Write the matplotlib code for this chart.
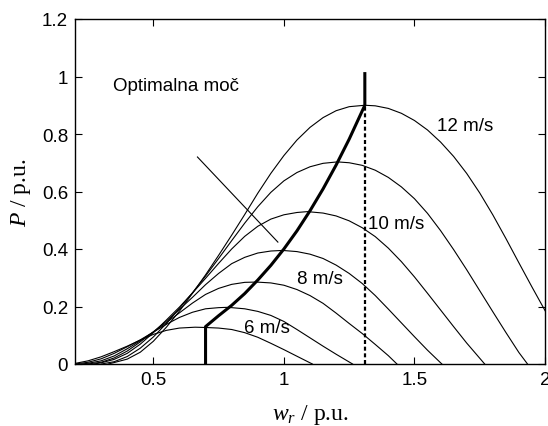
import matplotlib
matplotlib.use("Agg")
import matplotlib.pyplot as plt

plt.rcParams['font.family'] = ['Liberation Sans', 'DejaVu Sans']
plt.rcParams['mathtext.fontset'] = 'custom'
plt.rcParams['mathtext.rm'] = 'Liberation Serif'
plt.rcParams['mathtext.it'] = 'Liberation Serif:italic'

# power curves P(w_r) for each wind speed
w6 = [0.20, 0.25, 0.30, 0.35, 0.40, 0.45, 0.50, 0.55, 0.60, 0.66, 0.70, 0.75, 0.80,
      0.85, 0.90, 0.95, 1.00, 1.05, 1.109]
p6 = [0.002, 0.011, 0.025, 0.043, 0.062, 0.083, 0.103, 0.117, 0.125, 0.128, 0.127, 0.125, 0.120,
      0.109, 0.093, 0.072, 0.050, 0.027, 0.0]

w7 = [0.20, 0.25, 0.30, 0.35, 0.40, 0.45, 0.50, 0.55, 0.60, 0.65, 0.70, 0.75, 0.78,
      0.80, 0.85, 0.90, 0.95, 1.00, 1.05, 1.10, 1.15, 1.20, 1.263]
p7 = [0.0, 0.006, 0.018, 0.037, 0.060, 0.084, 0.111, 0.138, 0.162, 0.180, 0.192, 0.196, 0.197,
      0.196, 0.192, 0.183, 0.169, 0.148, 0.120, 0.091, 0.062, 0.034, 0.0]

w8 = [0.224, 0.25, 0.30, 0.35, 0.40, 0.45, 0.50, 0.55, 0.60, 0.65, 0.70, 0.75, 0.80, 0.85, 0.895,
      0.95, 1.00, 1.05, 1.10, 1.15, 1.20, 1.25, 1.30, 1.35, 1.40, 1.433]
p8 = [0.0, 0.0025, 0.011, 0.028, 0.053, 0.081, 0.111, 0.144, 0.178, 0.212, 0.242, 0.263, 0.277, 0.284, 0.285,
      0.282, 0.274, 0.259, 0.238, 0.211, 0.177, 0.141, 0.106, 0.068, 0.029, 0.0]

w9 = [0.249, 0.30, 0.35, 0.40, 0.45, 0.50, 0.55, 0.60, 0.65, 0.70, 0.75, 0.80, 0.85, 0.90, 0.95, 0.995,
      1.05, 1.10, 1.15, 1.20, 1.25, 1.30, 1.35, 1.40, 1.45, 1.50, 1.55, 1.605]
p9 = [0.0, 0.006, 0.021, 0.045, 0.077, 0.112, 0.149, 0.190, 0.232, 0.276, 0.315, 0.349, 0.371, 0.386, 0.393, 0.395,
      0.391, 0.382, 0.367, 0.344, 0.315, 0.280, 0.238, 0.191, 0.143, 0.095, 0.048, 0.0]

w10 = [0.2725, 0.30, 0.35, 0.40, 0.45, 0.50, 0.55, 0.60, 0.65, 0.70, 0.75, 0.80, 0.85, 0.90, 0.95, 1.00, 1.05, 1.09,
       1.15, 1.20, 1.25, 1.30, 1.35, 1.40, 1.45, 1.50, 1.55, 1.60, 1.65, 1.70, 1.769]
p10 = [0.0, 0.004, 0.016, 0.037, 0.069, 0.109, 0.153, 0.198, 0.247, 0.298, 0.350, 0.400, 0.444, 0.479, 0.504, 0.519, 0.527, 0.530,
       0.525, 0.515, 0.498, 0.474, 0.443, 0.403, 0.356, 0.303, 0.246, 0.188, 0.130, 0.073, 0.0]

w11 = [0.301, 0.35, 0.40, 0.45, 0.50, 0.55, 0.60, 0.65, 0.70, 0.75, 0.80, 0.85, 0.90, 0.95, 1.00, 1.05, 1.10, 1.15, 1.205,
       1.25, 1.30, 1.35, 1.40, 1.45, 1.50, 1.55, 1.60, 1.65, 1.70, 1.75, 1.80, 1.85, 1.90, 1.933]
p11 = [0.0, 0.008, 0.026, 0.055, 0.094, 0.141, 0.194, 0.248, 0.306, 0.367, 0.429, 0.490, 0.547, 0.597, 0.637, 0.666, 0.686, 0.698, 0.703,
       0.700, 0.691, 0.674, 0.649, 0.616, 0.575, 0.524, 0.464, 0.398, 0.328, 0.255, 0.182, 0.110, 0.040, 0.0]

w12 = [0.3275, 0.35, 0.40, 0.45, 0.50, 0.55, 0.60, 0.65, 0.70, 0.75, 0.80, 0.85, 0.90, 0.95, 1.00, 1.05, 1.10, 1.15, 1.20, 1.25, 1.31,
       1.35, 1.40, 1.45, 1.50, 1.55, 1.60, 1.65, 1.70, 1.75, 1.80, 1.85, 1.90, 1.95, 2.00, 2.05, 2.12]
p12 = [0.0, 0.005, 0.017, 0.041, 0.079, 0.128, 0.184, 0.246, 0.310, 0.378, 0.448, 0.520, 0.594, 0.663, 0.725, 0.779, 0.823, 0.857, 0.881, 0.895, 0.900,
       0.898, 0.889, 0.872, 0.847, 0.814, 0.772, 0.722, 0.663, 0.595, 0.519, 0.437, 0.352, 0.268, 0.186, 0.105, 0.0]

# optimal power trajectory (thick line)
w_opt = [0.70, 0.70, 0.75, 0.80, 0.85, 0.90, 0.95, 1.00, 1.05, 1.10, 1.15, 1.20, 1.25, 1.31, 1.31]
p_opt = [0.0, 0.13, 0.168, 0.204, 0.245, 0.292, 0.343, 0.400, 0.463, 0.533, 0.609, 0.692, 0.782, 0.90, 1.01]

w_lim = 1.31
p_lim = 0.90

curves = [(w6, p6), (w7, p7), (w8, p8), (w9, p9), (w10, p10), (w11, p11), (w12, p12)]

fig = plt.figure(figsize=(5.48, 4.27), dpi=100)
ax = fig.add_axes([75/548, 62/427, 470/548, 345/427])

for w, p in curves:
    ax.plot(w, p, color='black', lw=0.8)

ax.plot(w_opt, p_opt, color='black', lw=2.2, solid_joinstyle='round')
ax.plot([w_lim, w_lim], [0, p_lim], color='black', lw=1.6, linestyle=(0, (1.8, 1.2)))

# annotation pointer
ax.plot([0.669, 0.977], [0.72, 0.424], color='black', lw=0.8)

fs = 13.5
ax.text(0.346, 0.967, 'Optimalna moč', fontsize=fs, va='center', ha='left')
ax.text(1.587, 0.829, '12 m/s', fontsize=fs, va='center', ha='left')
ax.text(1.322, 0.487, '10 m/s', fontsize=fs, va='center', ha='left')
ax.text(1.05, 0.296, '8 m/s', fontsize=fs, va='center', ha='left')
ax.text(0.847, 0.128, '6 m/s', fontsize=fs, va='center', ha='left')

ax.set_xlim(0.2, 2.0)
ax.set_ylim(0, 1.2)
ax.set_xticks([0.5, 1, 1.5, 2])
ax.set_xticklabels(['0.5', '1', '1.5', '2'])
ax.set_yticks([0, 0.2, 0.4, 0.6, 0.8, 1.0, 1.2])
ax.set_yticklabels(['0', '0.2', '0.4', '0.6', '0.8', '1', '1.2'])
ax.tick_params(direction='in', top=True, right=True, length=5, width=0.8,
               labelsize=fs, pad=5)
for s in ax.spines.values():
    s.set_linewidth(1.0)

ax.set_xlabel('$w_r$ / p.u.', fontsize=17, family='Liberation Serif', labelpad=10)
ax.set_ylabel('$P$ / p.u.', fontsize=17, family='Liberation Serif', labelpad=6)

fig.savefig('out.png', dpi=100)
